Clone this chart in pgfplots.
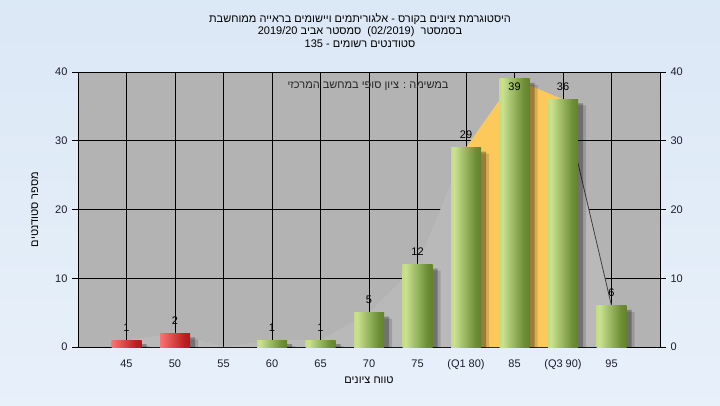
\documentclass[border=0pt]{standalone}
\usepackage{fontspec}
\setmainfont{Liberation Sans}
\newfontfamily\heb[Script=Hebrew]{Liberation Sans}
\usepackage{pgfplots}
\usepackage{pgfplotstable}
\pgfplotsset{compat=1.18}
\TeXXeTstate=1
\definecolor{bgtop}{HTML}{D5E3F4}
\definecolor{bgbot}{HTML}{EEF5FC}
\definecolor{plotbg}{HTML}{B3B3B3}
\definecolor{areagrey}{HTML}{B9B9B9}
\definecolor{yellowc}{HTML}{FDC95A}
\definecolor{g1}{HTML}{9FCB3E}
\definecolor{g2}{HTML}{C9E290}
\definecolor{g3}{HTML}{6F8F36}
\definecolor{g4}{HTML}{445E1C}
\definecolor{r1}{HTML}{EC2222}
\definecolor{r2}{HTML}{FA7474}
\definecolor{r3}{HTML}{BC2020}
\definecolor{r4}{HTML}{841010}
\definecolor{ticktext}{HTML}{1C1C30}
\pgfdeclarehorizontalshading{greenbar}{100bp}{color(0bp)=(g1); color(30bp)=(g2); color(65bp)=(g3); color(100bp)=(g4)}
\pgfdeclarehorizontalshading{redbar}{100bp}{color(0bp)=(r1); color(25bp)=(r2); color(65bp)=(r3); color(100bp)=(r4)}
\pgfdeclareverticalshading{bgshade}{100bp}{color(0bp)=(bgbot); color(100bp)=(bgtop)}

\pgfplotstableread{
x y off
0 1 9
1 2 9
3 1 9
4 1 9
5 5 9
6 12 9
7 29 9
8 39 -12
9 36 9
10 6 9
}\labeldata

\pgfplotsset{
  gbar/.style={ybar, bar width=30pt, bar shift=0pt, draw=none, shading=greenbar, forget plot},
  rbar/.style={ybar, bar width=30pt, bar shift=0pt, draw=none, shading=redbar, forget plot},
}

\begin{document}
\begin{tikzpicture}[x=1pt,y=1pt]
\useasboundingbox (0,0) rectangle (720,405);
\shade[shading=bgshade] (0,0) rectangle (720,405);
\node[font=\fontsize{11}{12.5}\selectfont\heb, align=center, text=black] at (360,374.5) {%
\beginR היסטוגרמת ציונים בקורס - אלגוריתמים ויישומים בראייה ממוחשבת\endR\\
\beginR בסמסטר \ \beginL(02/2019)\endL{} \ סמסטר אביב \beginL 2019/20\endL\endR\\
\beginR סטודנטים רשומים - \beginL 135\endL\endR};
\begin{axis}[
  at={(78pt,58pt)}, anchor=south west,
  scale only axis, width=582pt, height=275pt,
  xmin=-1, xmax=11, ymin=0, ymax=40,
  axis background/.style={fill=plotbg},
  xtick={0,...,10},
  xticklabels={45,50,55,60,65,70,75,(Q1 80),85,(Q3 90),95},
  ytick={0,10,20,30,40},
  grid=major,
  major grid style={black, line width=0.7pt},
  axis line style={black, line width=0.8pt},
  ytick style={black, line width=0.7pt},
  xtick style={draw=none},
  tick align=outside, major tick length=6pt,
  ticklabel style={font=\fontsize{11}{12}\selectfont, text=ticktext},
  /pgf/number format/assume math mode=true,
  xticklabel style={yshift=-3pt},
  yticklabel style={xshift=-1pt},
  xlabel={\heb\beginR טווח ציונים\endR},
  xlabel style={at={(axis description cs:0.5,-0.12)}, anchor=center, font=\fontsize{11}{12}\selectfont},
  ylabel={\heb\beginR מספר סטודנטים\endR},
  ylabel style={at={(axis description cs:-0.074,0.5)}, anchor=center, font=\fontsize{11}{12}\selectfont},
  ytick pos=left,
]
% distribution area
\addplot[fill=areagrey, draw=none] coordinates {(0,1)(1,2)(2,0)(3,1)(4,1)(5,5)(6,12)(7,29)(8,39)(9,36)(10,6)} \closedcycle;
\addplot[fill=yellowc, draw=none] coordinates {(7,29)(8,39)(9,36)} \closedcycle;
\addplot[draw=black!75, line width=0.8pt] coordinates {(9,36)(10,6)};
% shadows
\addplot[ybar, bar width=30pt, bar shift=8pt, draw=none, fill=black, opacity=0.14, yshift=-6pt]
  coordinates {(0,1)(1,2)(3,1)(4,1)(5,5)(6,12)(7,29)(8,39)(9,36)(10,6)};
\addplot[ybar, bar width=30pt, bar shift=5pt, draw=none, fill=black, opacity=0.28, yshift=-4pt]
  coordinates {(0,1)(1,2)(3,1)(4,1)(5,5)(6,12)(7,29)(8,39)(9,36)(10,6)};
% bars (one path each so every bar gets its own gradient)
\addplot[rbar] coordinates {(0,1)};
\addplot[rbar] coordinates {(1,2)};
\addplot[gbar] coordinates {(3,1)};
\addplot[gbar] coordinates {(4,1)};
\addplot[gbar] coordinates {(5,5)};
\addplot[gbar] coordinates {(6,12)};
\addplot[gbar] coordinates {(7,29)};
\addplot[gbar] coordinates {(8,39)};
\addplot[gbar] coordinates {(9,36)};
\addplot[gbar] coordinates {(10,6)};
% value labels
\addplot[draw=none, mark=none, point meta=y, nodes near coords,
  visualization depends on={\thisrow{off}\as\myoff},
  every node near coord/.append style={anchor=base, inner sep=0pt, yshift=\myoff pt,
    font=\fontsize{11}{12}\selectfont, text=black, /pgf/number format/assume math mode=true}]
  table[x=x, y=y] {\labeldata};
\node[font=\fontsize{11}{12}\selectfont\heb, text=black!85] at (axis cs:4.98,37.9)
  {\beginR במשימה : ציון סופי במחשב המרכזי\endR};
\end{axis}
\begin{axis}[
  at={(78pt,58pt)}, anchor=south west,
  scale only axis, width=582pt, height=275pt,
  xmin=-1, xmax=11, ymin=0, ymax=40,
  axis x line=none, axis y line*=right,
  ytick={0,10,20,30,40},
  axis line style={black, line width=0.8pt},
  ytick style={black, line width=0.7pt},
  tick align=outside, major tick length=6pt,
  ticklabel style={font=\fontsize{11}{12}\selectfont, text=ticktext},
  /pgf/number format/assume math mode=true,
  yticklabel style={xshift=1pt},
]
\end{axis}
\end{tikzpicture}
\end{document}
